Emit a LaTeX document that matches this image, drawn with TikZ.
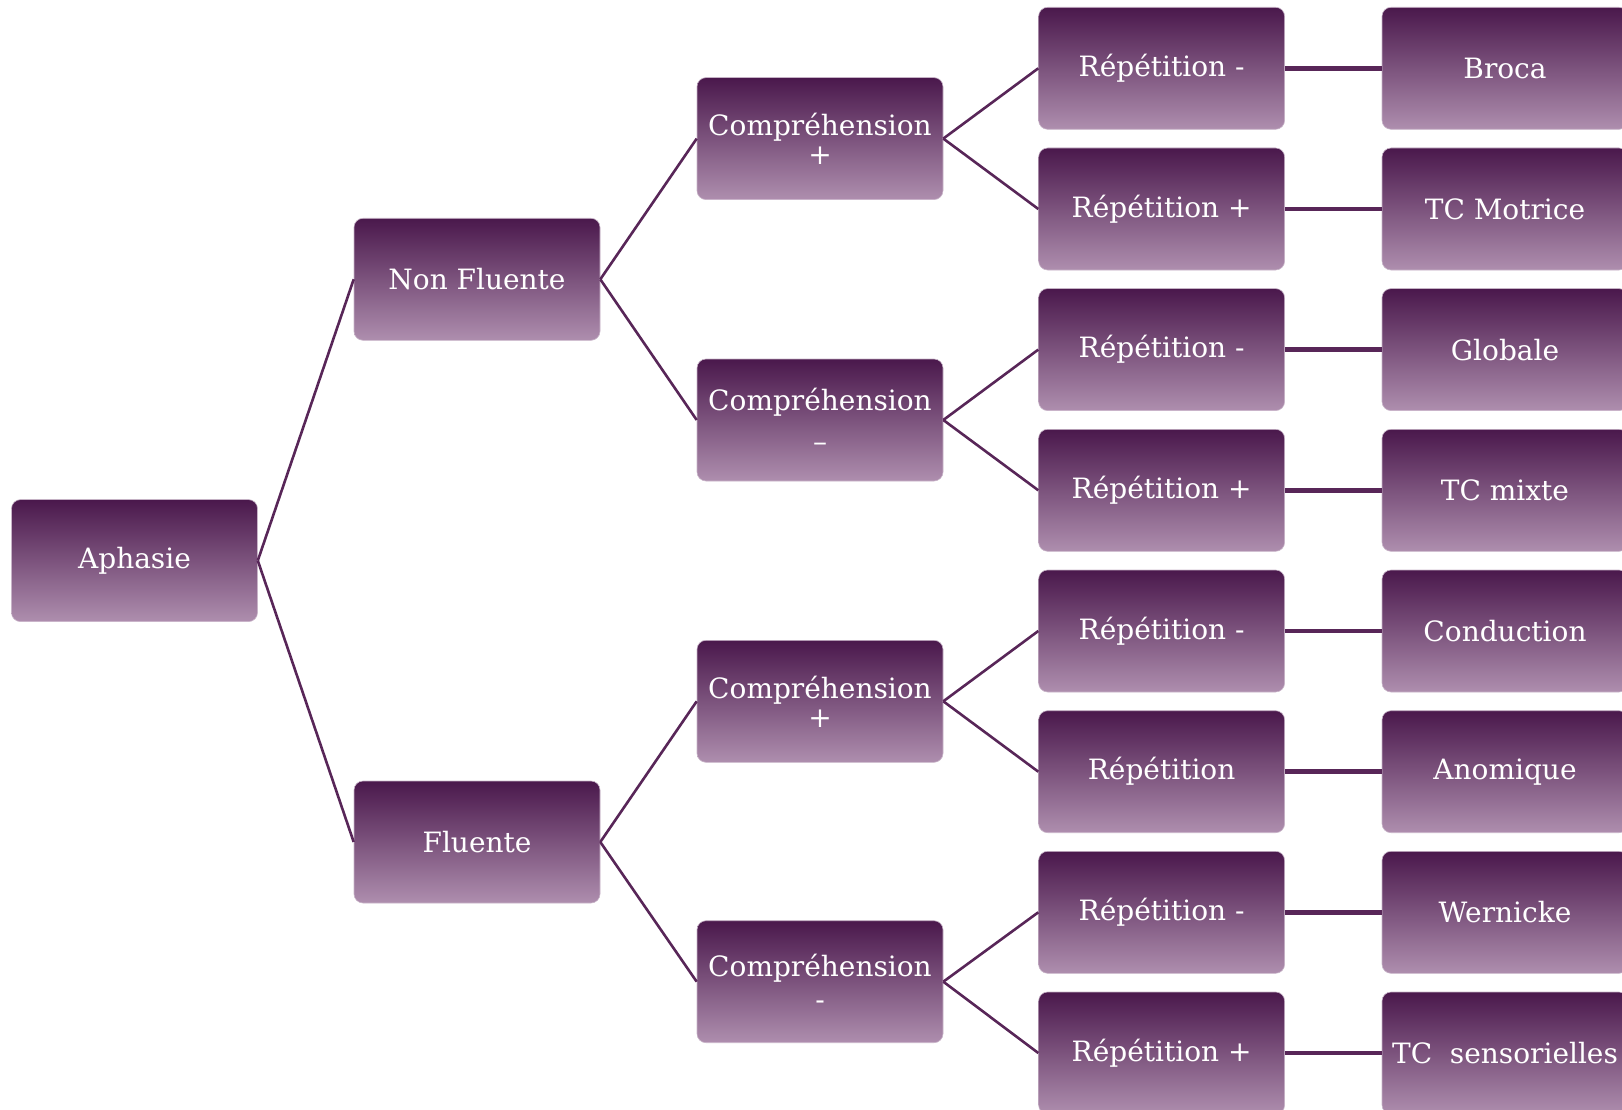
\documentclass[tikz,border=0pt]{standalone}
\usepackage{fontspec}
\setmainfont{DejaVu Serif}
\definecolor{boxtop}{RGB}{74,24,76}
\definecolor{boxbot}{RGB}{174,142,174}
\definecolor{boxedge}{RGB}{200,180,200}
\definecolor{linec}{RGB}{88,38,88}
\begin{document}
\begin{tikzpicture}[x=1pt,y=-1pt,
  box/.style={rectangle, rounded corners=9pt, minimum width=246pt, minimum height=122pt,
    top color=boxtop, bottom color=boxbot, draw=boxedge, line width=0.6pt,
    text=white, font=\fontsize{28}{29}\selectfont, align=center, inner sep=0pt},
  link/.style={draw=linec, line width=2.6pt},
  hlink/.style={draw=linec, line width=4.5pt}]
\useasboundingbox (0,0) rectangle (1622,1110);
\clip (0,0) rectangle (1622,1110);
\node[box] (aph) at (134.5,560.6) {Aphasie};
\node[box] (nf) at (477,279.3) {Non Fluente};
\node[box] (fl) at (477,842) {Fluente};
\node[box] (c1) at (820,138.6) {Compréhension\\+};
\node[box] (c2) at (820,420) {Compréhension\\[12pt]–};
\node[box] (c3) at (820,701.3) {Compréhension\\+};
\node[box] (c4) at (820,981.7) {Compréhension\\[4pt]-};
\node[box] (r1) at (1161.6,68.3) {Répétition -};
\node[box] (r2) at (1161.6,209) {Répétition +};
\node[box] (r3) at (1161.6,349.6) {Répétition -};
\node[box] (r4) at (1161.6,490.3) {Répétition +};
\node[box] (r5) at (1161.6,631) {Répétition -};
\node[box] (r6) at (1161.6,771.7) {Répétition};
\node[box] (r7) at (1161.6,912.3) {Répétition -};
\node[box] (r8) at (1161.6,1053) {Répétition +};
\node[box] (l1) at (1505,68.3) {Broca};
\node[box] (l2) at (1505,209) {TC Motrice};
\node[box] (l3) at (1505,349.6) {Globale};
\node[box] (l4) at (1505,490.3) {TC mixte};
\node[box] (l5) at (1505,631) {Conduction};
\node[box] (l6) at (1505,771.7) {Anomique};
\node[box] (l7) at (1505,912.3) {Wernicke};
\node[box] (l8) at (1505,1053) {TC\ \ sensorielles};
\draw[link] (aph.east) -- (nf.west);
\draw[link] (aph.east) -- (fl.west);
\draw[link] (nf.east) -- (c1.west);
\draw[link] (nf.east) -- (c2.west);
\draw[link] (fl.east) -- (c3.west);
\draw[link] (fl.east) -- (c4.west);
\draw[link] (c1.east) -- (r1.west);
\draw[link] (c1.east) -- (r2.west);
\draw[link] (c2.east) -- (r3.west);
\draw[link] (c2.east) -- (r4.west);
\draw[link] (c3.east) -- (r5.west);
\draw[link] (c3.east) -- (r6.west);
\draw[link] (c4.east) -- (r7.west);
\draw[link] (c4.east) -- (r8.west);
\draw[hlink] (r1.east) -- (l1.west);
\draw[hlink] (r2.east) -- (l2.west);
\draw[hlink] (r3.east) -- (l3.west);
\draw[hlink] (r4.east) -- (l4.west);
\draw[hlink] (r5.east) -- (l5.west);
\draw[hlink] (r6.east) -- (l6.west);
\draw[hlink] (r7.east) -- (l7.west);
\draw[hlink] (r8.east) -- (l8.west);
\end{tikzpicture}
\end{document}
